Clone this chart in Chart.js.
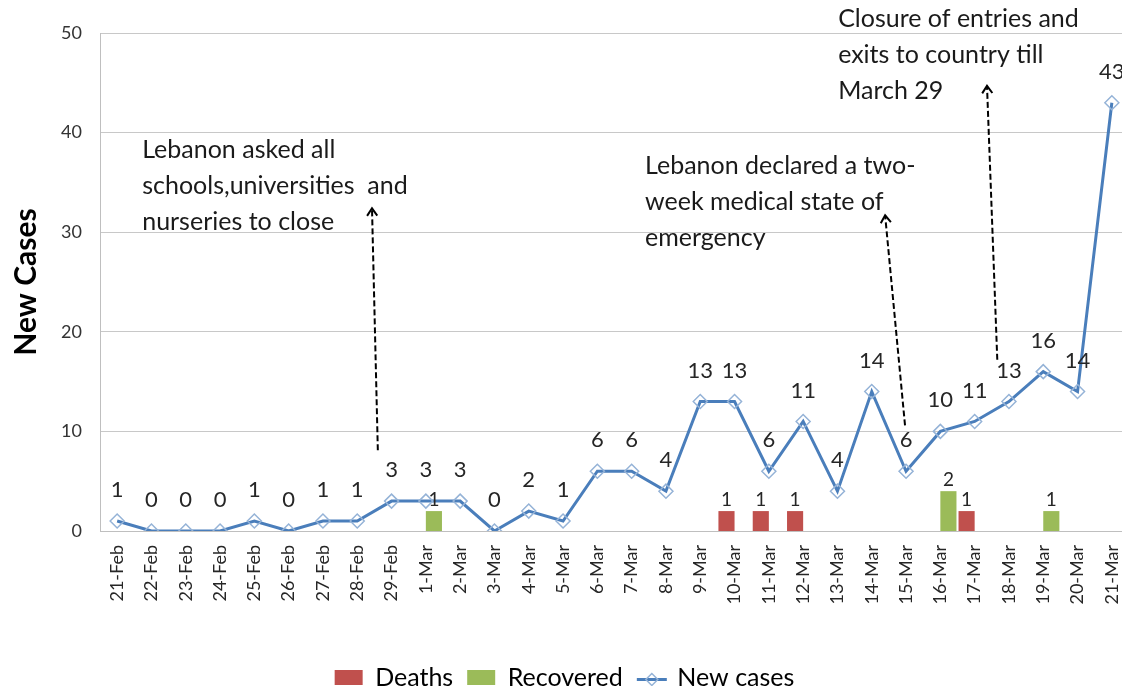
<!DOCTYPE html>
<html lang="en">
<head>
<meta charset="UTF-8" />
<title>Lebanon new cases</title>
<script src="https://cdn.jsdelivr.net/npm/chart.js"></script>
<style>
  html, body { margin: 0; padding: 0; background: #fff; overflow: hidden; }
  #wrap { width: 1140px; height: 700px; }
</style>
</head>
<body>
<div id="wrap"><canvas id="casesChart"></canvas></div>
<script>
const days = ["21-Feb","22-Feb","23-Feb","24-Feb","25-Feb","26-Feb","27-Feb","28-Feb","29-Feb",
  "1-Mar","2-Mar","3-Mar","4-Mar","5-Mar","6-Mar","7-Mar","8-Mar","9-Mar","10-Mar","11-Mar",
  "12-Mar","13-Mar","14-Mar","15-Mar","16-Mar","17-Mar","18-Mar","19-Mar","20-Mar","21-Mar"];
const newCases = [1,0,0,0,1,0,1,1,3,3,3,0,2,1,6,6,4,13,13,6,11,4,14,6,10,11,13,16,14,43];
const deaths = [null,null,null,null,null,null,null,null,null,null,null,null,null,null,null,
  null,null,null,1,1,1,null,null,null,null,1,null,null,null,null];
const recovered = [null,null,null,null,null,null,null,null,null,1,null,null,null,null,null,
  null,null,null,null,null,null,null,null,null,2,null,null,1,null,null];
const yTicks = [0,10,20,30,40,50];

// notes: x = category index, y = value on the New Cases axis
const notes = [
  { lines: ["Lebanon asked all", "schools,universities  and", "nurseries to close"],
    x: 0.73, y: 38.3, from: [7.60, 8.1], to: [7.43, 32.4] },
  { lines: ["Lebanon declared a two-", "week medical state of", "emergency"],
    x: 15.39, y: 36.7, from: [22.97, 10.6], to: [22.39, 31.7] },
  { lines: ["Closure of entries and", "exits to country till", "March 29"],
    x: 21.02, y: 51.4, from: [25.66, 17.2], to: [25.36, 44.7] }
];

const FONT = "Lato, 'Open Sans', sans-serif";
const RED = "#C0504D", GREEN = "#9BBB59", BLUE = "#4A7EBB", LIGHT = "#95B3D7";

const valueLabels = {
  id: "valueLabels",
  afterDatasetsDraw(chart) {
    const ctx = chart.ctx;
    ctx.save();
    ctx.textAlign = "center";
    ctx.textBaseline = "middle";
    ctx.fillStyle = "#262626";
    chart.data.datasets.forEach((ds, i) => {
      const meta = chart.getDatasetMeta(i);
      meta.data.forEach((el, j) => {
        const v = ds.data[j];
        if (v === null) return;
        if (ds.type === "line") {
          ctx.font = "22px " + FONT;
          ctx.fillText(v, el.x, el.y - 31);
        } else {
          ctx.font = "19px " + FONT;
          ctx.fillText(v, el.x, el.y - 11);
        }
      });
    });
    ctx.restore();
  }
};

const notesPlugin = {
  id: "notes",
  afterDraw(chart) {
    const ctx = chart.ctx;
    const xs = chart.scales.x, ys = chart.scales.y;
    const px = v => xs.getPixelForValue(0) + v * (xs.getPixelForValue(1) - xs.getPixelForValue(0));
    ctx.save();
    notes.forEach(n => {
      ctx.font = "25px " + FONT;
      ctx.fillStyle = "#1a1a1a";
      ctx.textAlign = "left";
      ctx.textBaseline = "middle";
      n.lines.forEach((t, k) => ctx.fillText(t, px(n.x), ys.getPixelForValue(n.y) + k * 36));

      const x1 = px(n.from[0]), y1 = ys.getPixelForValue(n.from[1]);
      const x2 = px(n.to[0]), y2 = ys.getPixelForValue(n.to[1]);
      ctx.strokeStyle = "#000";
      ctx.lineWidth = 2;
      ctx.setLineDash([6, 3]);
      ctx.beginPath();
      ctx.moveTo(x1, y1);
      ctx.lineTo(x2, y2);
      ctx.stroke();
      ctx.setLineDash([]);
      const a = Math.atan2(y2 - y1, x2 - x1);
      ctx.beginPath();
      ctx.moveTo(x2 - 9 * Math.cos(a - 0.6), y2 - 9 * Math.sin(a - 0.6));
      ctx.lineTo(x2, y2);
      ctx.lineTo(x2 - 9 * Math.cos(a + 0.6), y2 - 9 * Math.sin(a + 0.6));
      ctx.stroke();
    });

    // line marker in the legend
    const box = chart.legend.legendHitBoxes[2];
    if (box) {
      const cy = box.top + box.height / 2 + 2;
      ctx.strokeStyle = BLUE;
      ctx.lineWidth = 3;
      ctx.beginPath();
      ctx.moveTo(box.left, cy);
      ctx.lineTo(box.left + 30, cy);
      ctx.stroke();
      const cx = box.left + 15;
      ctx.fillStyle = "#fff";
      ctx.strokeStyle = LIGHT;
      ctx.lineWidth = 1.5;
      ctx.beginPath();
      ctx.moveTo(cx, cy - 6); ctx.lineTo(cx + 6, cy); ctx.lineTo(cx, cy + 6); ctx.lineTo(cx - 6, cy);
      ctx.closePath();
      ctx.stroke();
    }
    ctx.restore();
  }
};

new Chart(document.getElementById("casesChart"), {
  type: "bar",
  data: {
    labels: days,
    datasets: [
      { label: "Deaths", data: deaths, backgroundColor: RED, yAxisID: "y2", order: 1,
        categoryPercentage: 0.94, barPercentage: 1.0 },
      { label: "Recovered", data: recovered, backgroundColor: GREEN, yAxisID: "y2", order: 1,
        categoryPercentage: 0.94, barPercentage: 1.0 },
      { type: "line", label: "New cases", data: newCases, yAxisID: "y", order: 0,
        borderColor: BLUE, borderWidth: 3, tension: 0,
        pointStyle: "rectRot", pointRadius: 7, pointBackgroundColor: "rgba(255,255,255,0)",
        pointBorderColor: LIGHT, pointBorderWidth: 1.5 }
    ]
  },
  options: {
    responsive: true,
    maintainAspectRatio: false,
    animation: false,
    layout: { padding: { top: 33, left: 0, right: 11, bottom: 0 } },
    plugins: {
      tooltip: { enabled: false },
      legend: {
        position: "bottom",
        labels: {
          font: { family: FONT, size: 25 },
          color: "#1a1a1a",
          boxWidth: 28,
          boxHeight: 15,
          padding: 14,
          generateLabels(chart) {
            return chart.data.datasets.map((ds, i) => ({
              text: ds.label,
              fillStyle: ds.type === "line" ? "rgba(0,0,0,0)" : ds.backgroundColor,
              strokeStyle: "rgba(0,0,0,0)",
              lineWidth: 0,
              datasetIndex: i,
              hidden: false
            }));
          }
        }
      }
    },
    scales: {
      x: {
        grid: { display: false },
        border: { color: "#BFBFBF" },
        ticks: { font: { family: FONT, size: 18 }, color: "#262626", padding: 6,
                 maxRotation: 90, minRotation: 90, autoSkip: false },
        afterFit(scale) { scale.height = 120; }
      },
      y: {
        min: 0, max: 50,
        afterBuildTicks(scale) { scale.ticks = yTicks.map(v => ({ value: v })); },
        grid: { color: "#C8C8C8", drawTicks: false },
        border: { color: "#BFBFBF" },
        ticks: { font: { family: FONT, size: 18 }, color: "#333", padding: 18 },
        title: { display: true, text: "New Cases", font: { family: FONT, size: 30, weight: "bold" },
                 color: "#000", padding: { top: 8, bottom: 0 } },
        afterFit(scale) { scale.width = 100; }
      },
      y2: { display: false, min: 0, max: 25 }
    }
  },
  plugins: [valueLabels, notesPlugin]
});
</script>
</body>
</html>
